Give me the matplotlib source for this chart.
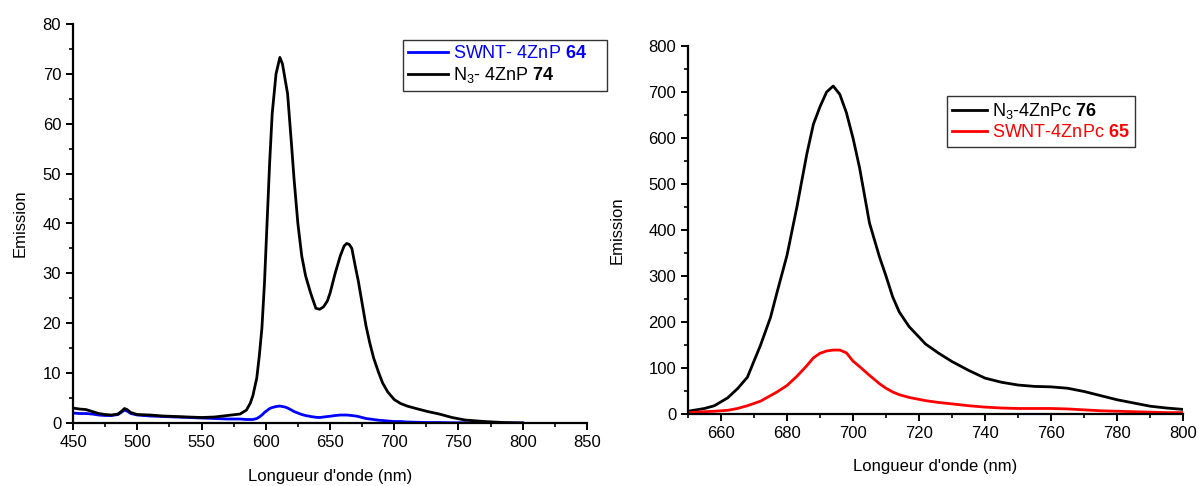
import numpy as np
import matplotlib
matplotlib.use("Agg")
import matplotlib.pyplot as plt
from matplotlib.ticker import MultipleLocator

plt.rcParams["font.family"] = ["Liberation Sans", "DejaVu Sans"]
plt.rcParams["mathtext.fontset"] = "custom"
plt.rcParams["mathtext.rm"] = "Liberation Sans"
plt.rcParams["mathtext.bf"] = "Liberation Sans:bold"

# left panel: porphyrin emission
wl_p = [450, 455, 460, 465, 470, 475, 480, 485, 488, 490, 492, 495, 500, 510, 520,
        530, 540, 550, 560, 570, 580, 585, 588, 590, 593, 595, 597, 599, 601, 603,
        605, 608, 611, 613, 615, 617, 620, 622, 625, 628, 631, 635, 639, 642, 645,
        648, 650, 654, 658, 661, 663, 665, 667, 670, 672, 675, 678, 681, 684, 688,
        691, 695, 700, 705, 710, 717, 726, 735, 745, 755, 770, 785, 800]
n3_znp = [3.0, 2.8, 2.7, 2.3, 1.9, 1.7, 1.6, 1.8, 2.4, 2.9, 2.7, 2.1, 1.7, 1.6, 1.4,
          1.3, 1.2, 1.1, 1.2, 1.5, 1.8, 2.6, 4.0, 5.5, 9.0, 13.5, 19.0, 28.0, 40.0, 52.0,
          62.0, 70.0, 73.3, 72.0, 69.0, 66.0, 56.0, 49.0, 40.0, 33.5, 29.5, 26.0, 23.0, 22.8, 23.3,
          24.5, 26.0, 30.0, 33.5, 35.5, 36.0, 35.8, 35.0, 31.0, 28.5, 24.0, 19.5, 16.0, 13.0, 10.0,
          8.0, 6.2, 4.7, 3.9, 3.4, 2.9, 2.3, 1.8, 1.1, 0.6, 0.3, 0.1, 0.0]
swnt_znp = [2.0, 1.9, 1.9, 1.8, 1.6, 1.5, 1.5, 1.7, 2.2, 2.6, 2.4, 1.9, 1.6, 1.4, 1.3,
            1.2, 1.1, 1.0, 0.9, 0.8, 0.8, 0.7, 0.7, 0.7, 0.9, 1.2, 1.6, 2.1, 2.5, 2.9,
            3.1, 3.3, 3.4, 3.3, 3.2, 3.0, 2.6, 2.3, 2.0, 1.7, 1.5, 1.3, 1.15, 1.1, 1.2,
            1.3, 1.35, 1.5, 1.6, 1.6, 1.6, 1.55, 1.5, 1.4, 1.3, 1.1, 0.9, 0.8, 0.7, 0.55,
            0.5, 0.4, 0.3, 0.3, 0.2, 0.15, 0.1, 0.1, 0.05, 0.05, 0.0, 0.0, 0.0]

# right panel: phthalocyanine emission
wl_pc = [650, 655, 658, 662, 665, 668, 672, 675, 677, 680, 683, 686, 688, 690, 692,
         694, 696, 698, 700, 702, 705, 708, 710, 712, 714, 717, 722, 726, 730, 735,
         740, 745, 750, 755, 760, 765, 770, 775, 780, 785, 790, 795, 800]
n3_znpc = [6, 12, 18, 35, 55, 80, 150, 210, 265, 345, 450, 565, 630, 668, 700,
           713, 695, 655, 600, 535, 415, 342, 300, 255, 222, 190, 152, 132, 114, 95,
           78, 69, 63, 60, 59, 56, 49, 40, 31, 24, 17, 13, 10]
swnt_znpc = [3, 5, 6, 8, 12, 18, 28, 40, 48, 62, 82, 105, 122, 132, 137,
             139, 139, 133, 115, 103, 84, 66, 56, 48, 42, 36, 29, 25, 22, 18,
             15, 13, 12, 12, 12, 11, 9, 7, 6, 5, 4, 3, 3]

fig = plt.figure(figsize=(11.99, 4.86), dpi=100)
ax1 = fig.add_axes([73/1199, 1-423/486, (587-73)/1199, (423-24)/486])
ax2 = fig.add_axes([688/1199, 1-414/486, (1183-688)/1199, (414-46)/486])

ax1.plot(wl_p, swnt_znp, color="#0000ff", lw=2, label=r"SWNT- 4ZnP $\mathbf{64}$    ")
ax1.plot(wl_p, n3_znp, color="black", lw=2, label=r"N$_3$- 4ZnP $\mathbf{74}$")
ax1.set_xlim(450, 850)
ax1.set_ylim(0, 80)
ax1.xaxis.set_major_locator(MultipleLocator(50))
ax1.xaxis.set_minor_locator(MultipleLocator(25))
ax1.yaxis.set_major_locator(MultipleLocator(10))
ax1.yaxis.set_minor_locator(MultipleLocator(5))

ax2.plot(wl_pc, n3_znpc, color="black", lw=2, label=r"N$_3$-4ZnPc $\mathbf{76}$")
ax2.plot(wl_pc, swnt_znpc, color="#ff0000", lw=2, label=r"SWNT-4ZnPc $\mathbf{65}$")
ax2.set_xlim(650, 800)
ax2.set_ylim(0, 800)
ax2.xaxis.set_major_locator(MultipleLocator(20))
ax2.xaxis.set_minor_locator(MultipleLocator(10))
ax2.yaxis.set_major_locator(MultipleLocator(100))
ax2.yaxis.set_minor_locator(MultipleLocator(50))

for ax in (ax1, ax2):
    ax.spines["top"].set_visible(False)
    ax.spines["right"].set_visible(False)
    ax.spines["left"].set_linewidth(1.6)
    ax.spines["bottom"].set_linewidth(1.6)
    ax.tick_params(which="major", direction="out", length=5, width=1.4, labelsize=12)
    ax.tick_params(which="minor", direction="out", length=3, width=1.2)

ax1.set_ylabel("Emission", fontsize=12, labelpad=11)
ax2.set_ylabel("Emission", fontsize=12, labelpad=17)
ax1.set_xlabel("Longueur d'onde (nm)", fontsize=12, labelpad=14)
ax2.set_xlabel("Longueur d'onde (nm)", fontsize=12, labelpad=13)

colors1 = ["#0000ff", "black"]
leg1 = ax1.legend(loc="upper left", bbox_to_anchor=(403/1199, 1-40/486),
                  bbox_transform=fig.transFigure, borderaxespad=0, fancybox=False,
                  edgecolor="#333333", fontsize=13, handlelength=2.2,
                  handletextpad=0.25, labelspacing=0.15, borderpad=0.3, framealpha=1)
for t, c in zip(leg1.get_texts(), colors1):
    t.set_color(c)
leg1.get_frame().set_linewidth(1.0)

colors2 = ["black", "#ff0000"]
leg2 = ax2.legend(loc="upper left", bbox_to_anchor=(947/1199, 1-96/486),
                  bbox_transform=fig.transFigure, borderaxespad=0, fancybox=False,
                  edgecolor="#333333", fontsize=13, handlelength=1.9,
                  handletextpad=0.3, labelspacing=0.15, borderpad=0.3, framealpha=1)
for t, c in zip(leg2.get_texts(), colors2):
    t.set_color(c)
leg2.get_frame().set_linewidth(1.0)

fig.savefig("out.png", dpi=100)
